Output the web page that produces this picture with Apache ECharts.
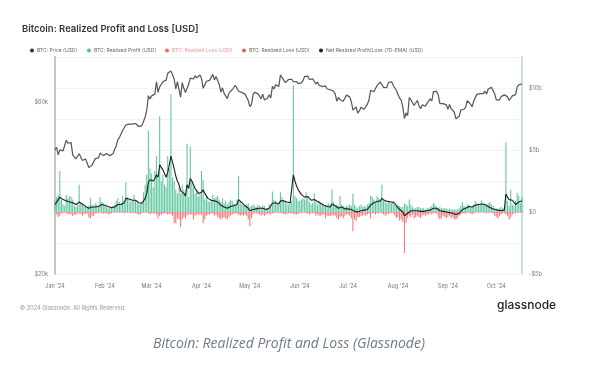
<!DOCTYPE html>
<html><head><meta charset="utf-8">
<script src="https://cdn.jsdelivr.net/npm/echarts@6/dist/echarts.min.js"></script>
<style>html,body{margin:0;padding:0;background:#fff}#c{width:603px;height:380px}</style>
</head><body><div id="c"></div>
<script>
// ---- data (daily, 2024-01-01 .. 2024-10-17) ----
const startDate = '2024-01-01';
const monthLabels = ["Jan '24","Feb '24","Mar '24","Apr '24","May '24","Jun '24","Jul '24","Aug '24","Sep '24","Oct '24"];
const leftTicks = [20000, 60000];

// BTC price (USD, thousands)
const price = [
44.2,44.9,42.8,44.2,44.1,43.9,43.9,47.0,46.1,46.6,46.3,42.8,42.8,41.7,42.5,43.1,42.7,41.3,41.6,41.7,41.6,39.5,39.8,40.1,39.9,41.8,42.1,42.0,43.3,42.9,42.6,
43.1,43.2,43.0,42.6,42.7,43.1,44.3,45.3,47.1,47.8,48.3,50.0,49.7,51.8,52.0,52.1,51.7,52.1,51.8,52.3,51.8,51.3,50.7,51.6,51.7,54.5,57.1,62.5,61.2,
62.4,62.0,63.1,68.3,63.8,66.1,66.9,68.3,68.5,69.0,72.1,71.5,73.1,71.4,69.5,65.3,68.4,67.6,61.9,67.9,65.5,63.8,64.0,67.2,69.9,69.9,69.5,71.0,70.0,69.6,71.3,
69.7,65.5,65.9,68.5,67.8,68.9,69.4,71.6,69.1,70.6,70.0,67.1,63.9,65.7,63.4,63.8,61.3,63.5,63.8,64.9,64.9,66.8,66.4,64.3,64.5,63.8,63.4,63.1,63.8,60.6,
58.3,59.1,62.9,63.9,64.0,63.2,62.3,61.2,63.1,60.8,60.8,61.5,62.9,61.6,66.3,65.2,67.0,67.0,66.3,71.4,70.1,69.1,67.9,68.5,69.3,68.5,69.4,68.3,67.6,68.4,67.5,
67.7,67.8,68.8,70.6,71.1,70.8,69.3,69.3,69.6,69.5,67.3,68.2,66.8,66.0,66.2,66.6,66.5,65.2,65.0,64.9,64.1,64.3,63.2,60.3,61.8,60.9,61.6,60.3,60.9,62.7,
62.9,62.0,60.2,57.0,56.7,58.2,55.9,56.7,58.0,57.7,57.3,57.9,59.2,60.8,64.7,65.0,64.1,63.9,66.7,67.2,68.2,67.6,65.9,65.4,65.8,67.9,68.2,68.3,66.8,66.2,64.6,
65.4,61.5,60.7,58.1,54.0,56.0,55.0,61.7,60.9,60.9,58.7,59.4,60.6,58.7,57.5,58.9,59.5,58.4,59.5,59.0,61.2,60.4,64.1,64.2,64.2,62.8,59.4,59.0,59.4,59.1,58.9,
57.3,59.1,57.5,58.0,56.2,53.9,54.2,54.8,57.0,57.6,57.3,58.1,60.5,60.0,59.2,58.2,60.3,61.8,63.0,63.2,63.3,63.6,63.3,64.3,63.1,65.2,65.8,65.9,65.6,63.3,
60.8,60.6,60.8,62.1,62.1,62.8,62.2,62.1,60.6,60.3,62.4,63.2,62.9,66.0,67.0,67.6,67.4
];

// Realized profit ($b)
const profit = [
0.9,1.2,1.4,3.3,1.0,0.6,0.5,1.4,1.1,1.3,1.2,1.0,0.5,0.4,0.6,2.2,0.7,0.6,0.5,0.4,0.3,0.5,1.1,0.6,0.5,0.7,0.6,0.4,1.2,0.8,0.7,
0.5,0.4,0.3,0.3,0.4,0.5,0.6,0.9,1.1,0.8,0.7,1.3,0.9,2.4,1.2,1.0,0.8,0.9,1.4,0.9,0.7,0.6,0.7,0.8,1.6,2.2,3.0,6.6,3.5,
3.1,2.0,3.3,4.5,2.8,7.7,2.5,3.0,2.2,2.0,4.5,3.5,9.5,2.8,2.5,1.8,1.5,2.0,1.5,2.2,1.8,1.5,5.5,1.2,5.3,2.5,2.0,1.5,1.8,1.2,1.5,
3.3,2.6,1.0,1.2,0.9,0.8,1.0,1.4,1.1,1.2,1.3,1.0,0.8,1.1,0.7,0.9,0.6,0.8,1.0,0.9,0.7,0.6,1.0,2.9,0.8,0.6,0.5,0.5,0.6,0.7,
0.4,0.5,0.6,0.5,0.4,0.6,0.5,0.4,0.5,0.5,0.3,0.3,0.6,0.6,1.65,1.0,0.9,0.7,0.6,1.6,1.2,0.9,0.8,0.7,0.6,0.8,0.9,10.2,1.3,1.1,0.9,
0.9,1.0,1.1,1.0,1.6,1.2,0.8,0.6,0.7,1.5,0.8,0.6,0.9,0.7,0.6,0.5,0.5,0.6,0.7,0.6,1.8,0.8,0.5,0.6,0.5,1.3,0.6,0.5,0.4,0.5,
0.5,0.6,0.5,1.5,0.6,0.4,0.3,0.5,0.6,0.4,0.5,0.4,0.6,0.7,1.3,1.2,1.0,0.8,1.3,1.1,0.9,2.2,1.0,0.8,0.7,0.9,0.8,0.7,0.9,0.6,0.5,
0.6,0.5,0.4,0.4,0.7,0.6,0.5,1.0,0.6,0.4,0.3,0.3,0.4,0.4,0.3,0.3,0.3,0.2,0.3,0.3,0.4,0.5,0.7,0.6,0.4,0.3,0.4,0.3,0.3,0.3,0.3,
0.2,0.3,0.2,0.2,0.2,0.2,0.2,0.3,0.5,0.8,0.5,0.4,0.6,0.6,0.5,0.4,0.6,0.9,0.7,0.6,0.6,0.9,0.6,0.6,0.5,0.7,0.8,0.6,0.5,0.3,
0.3,0.2,0.3,0.4,0.3,0.3,5.6,0.9,0.5,1.8,0.6,0.5,0.9,1.55,1.3,0.7,1.2
];

// Realized loss ($b, negative)
const loss = [
-0.1,-0.2,-0.4,-0.3,-0.1,-0.1,-0.05,-0.1,-0.2,-0.15,-0.2,-0.35,-0.2,-0.25,-0.1,-0.15,-0.15,-0.3,-0.2,-0.1,-0.15,-0.45,-0.5,-0.3,-0.3,-0.1,-0.1,-0.1,-0.05,-0.1,-0.15,
-0.1,-0.1,-0.15,-0.2,-0.1,-0.05,-0.05,-0.05,-0.05,-0.05,-0.05,-0.05,-0.1,-0.05,-0.05,-0.05,-0.1,-0.05,-0.1,-0.1,-0.15,-0.2,-0.2,-0.1,-0.05,-0.05,-0.05,-0.1,-0.2,
-0.1,-0.15,-0.1,-0.2,-0.55,-0.3,-0.2,-0.15,-0.1,-0.1,-0.2,-0.15,-0.2,-0.3,-0.9,-0.9,-0.5,-0.6,-1.2,-0.6,-0.4,-0.5,-0.3,-0.2,-0.2,-0.2,-0.6,-0.3,-0.2,-0.2,-0.2,
-0.2,-0.9,-0.6,-0.3,-0.2,-0.2,-0.1,-0.15,-0.3,-0.2,-0.4,-0.5,-0.6,-0.5,-0.4,-0.5,-0.6,-0.4,-0.3,-0.2,-0.15,-0.1,-0.15,-0.2,-0.3,-0.25,-0.3,-0.2,-0.3,-0.6,
-1.15,-0.5,-0.2,-0.1,-0.1,-0.15,-0.2,-0.3,-0.2,-0.3,-0.2,-0.15,-0.15,-0.2,-0.1,-0.1,-0.05,-0.05,-0.1,-0.05,-0.1,-0.15,-0.2,-0.15,-0.1,-0.1,-0.1,-0.15,-0.2,-0.2,-0.15,
-0.1,-0.1,-0.05,-0.05,-0.1,-0.1,-0.2,-0.1,-0.1,-0.1,-0.3,-0.2,-0.3,-0.3,-0.2,-0.2,-0.5,-0.3,-0.35,-0.3,-0.3,-0.25,-0.3,-0.5,-0.6,-0.4,-0.35,-0.5,-0.3,-0.2,
-0.2,-0.3,-0.5,-1.55,-0.6,-0.7,-0.4,-0.4,-0.3,-0.3,-0.2,-0.3,-0.2,-0.15,-0.5,-0.1,-0.1,-0.2,-0.1,-0.1,-0.05,-0.1,-0.2,-0.3,-0.2,-0.15,-0.1,-0.05,-0.1,-0.3,-0.5,
-0.4,-0.7,-0.6,-0.8,-3.3,-0.9,-0.5,-0.3,-0.4,-0.2,-0.5,-0.4,-0.3,-0.4,-0.5,-0.3,-0.2,-0.3,-0.2,-0.2,-0.1,-0.2,-0.1,-0.1,-0.15,-0.4,-0.6,-0.5,-0.3,-0.4,-0.5,
-0.4,-0.3,-0.5,-0.4,-0.6,-0.6,-0.5,-0.3,-0.2,-0.1,-0.1,-0.15,-0.05,-0.05,-0.1,-0.2,-0.1,-0.05,-0.05,-0.05,-0.05,-0.05,-0.05,-0.05,-0.1,-0.05,-0.05,-0.05,-0.1,-0.3,
-0.4,-0.5,-0.35,-0.2,-0.1,-0.1,-0.2,-0.3,-0.6,-0.4,-0.2,-0.1,-0.1,-0.05,-0.05,-0.05,-0.1
];

// Net realized profit/loss, 7D-EMA ($b)
const netEma = [
0.6,0.8,0.9,1.2,1.1,1.0,0.9,0.9,0.85,0.8,0.8,0.75,0.7,0.6,0.55,0.8,0.75,0.65,0.55,0.45,0.4,0.3,0.4,0.4,0.35,0.4,0.45,0.45,0.6,0.6,0.6,
0.55,0.5,0.45,0.4,0.35,0.35,0.4,0.5,0.6,0.6,0.6,0.75,0.75,1.1,1.1,1.05,1.0,0.95,1.0,0.95,0.85,0.75,0.7,0.7,0.85,1.1,1.5,2.4,2.6,
2.7,2.5,2.7,3.0,2.8,3.8,3.6,3.4,3.1,2.8,3.2,3.8,4.5,4.0,3.5,2.9,2.5,2.2,1.7,1.6,1.5,1.3,2.2,1.9,2.7,2.5,2.2,1.9,1.7,1.5,1.4,
1.6,1.8,1.5,1.3,1.1,1.0,0.95,0.95,0.9,0.85,0.8,0.7,0.55,0.5,0.4,0.35,0.3,0.35,0.45,0.5,0.5,0.5,0.6,1.0,0.9,0.75,0.6,0.5,0.45,0.3,
0.1,0.1,0.2,0.25,0.25,0.3,0.3,0.25,0.3,0.25,0.2,0.2,0.3,0.35,0.7,0.75,0.75,0.7,0.65,0.9,0.95,0.9,0.85,0.8,0.75,0.75,0.8,3.0,2.5,2.1,1.8,
1.6,1.4,1.3,1.2,1.3,1.25,1.1,0.95,0.85,1.0,0.95,0.85,0.8,0.7,0.6,0.55,0.45,0.45,0.45,0.4,0.65,0.6,0.5,0.4,0.3,0.45,0.4,0.3,0.25,0.25,
0.25,0.25,0.2,0.1,0.05,0.0,0.0,0.05,0.1,0.1,0.15,0.15,0.2,0.3,0.55,0.7,0.75,0.75,0.85,0.9,0.9,1.1,1.0,0.9,0.85,0.85,0.85,0.8,0.8,0.7,0.5,
0.4,0.2,0.1,0.0,-0.3,-0.2,-0.1,0.05,0.1,0.15,0.1,0.1,0.1,0.1,0.05,0.05,0.05,0.05,0.1,0.1,0.15,0.2,0.3,0.35,0.3,0.2,0.1,0.05,0.05,0.05,0.0,
0.0,-0.05,-0.1,-0.1,-0.15,-0.2,-0.2,-0.1,0.0,0.2,0.25,0.3,0.4,0.45,0.45,0.4,0.45,0.55,0.6,0.6,0.6,0.65,0.6,0.6,0.55,0.45,0.4,0.3,0.25,0.2,
0.2,0.15,0.1,0.1,0.15,0.15,1.45,1.2,1.0,1.1,0.95,0.8,0.6,0.75,0.8,0.8,0.9
];

// ---- build ----
const dates = [];
{ const d0 = new Date(startDate + 'T00:00:00Z');
  for (let i = 0; i < price.length; i++) { const d = new Date(d0.getTime() + i*86400000); dates.push(d.toISOString().slice(0,10)); } }
const FONT = 'Inter, "Noto Sans", sans-serif';
const names = ['BTC: Price (USD)','BTC: Realized Profit (USD)','BTC: Realized Loss (USD) ','BTC: Realized Loss (USD)','Net Realized Profit/Loss (7D-EMA) (USD)'];
const legendLeft = [30, 87, 165, 242, 319];
const legendColors = ['#333','#4fbf94','#f07070','#f05a5a','#222'];
const legends = names.map((n,i)=>({
  left: legendLeft[i], top: 48, data:[{name:n, icon:'circle', itemStyle:{color:legendColors[i]}}],
  itemWidth:4, itemHeight:4, padding:0, selectedMode:false,
  textStyle:{fontSize:5, color: i===2 ? '#f09a9a' : '#666', fontFamily:FONT, padding:[0,0,0,-2]}
}));

const chart = echarts.init(document.getElementById('c'), null, {renderer:'canvas'});
chart.setOption({
  animation:false,
  backgroundColor:'#fff',
  title:{text:'Bitcoin: Realized Profit and Loss [USD]', left:17, top:19,
    textStyle:{fontSize:9.5, fontWeight:600, color:'#333', fontFamily:FONT}},
  legend: legends,
  grid:{left:55, right:81, top:57, bottom:106},
  xAxis:{type:'category', data:dates, boundaryGap:false,
    axisLine:{lineStyle:{color:'#e6e6e6'}}, axisTick:{show:false},
    axisLabel:{interval:(i,v)=>v.slice(8)==='01', formatter:v=>monthLabels[parseInt(v.slice(5,7))-1],
      fontSize:5.5, color:'#777', margin:9, fontFamily:FONT},
    splitLine:{show:false}},
  yAxis:[
    {type:'log', min:20000, max:80000, position:'left',
      axisLine:{show:true, lineStyle:{color:'#c6c6c6', width:2}}, axisTick:{show:false},
      axisLabel:{customValues:leftTicks, showMinLabel:true, formatter:v=>'$'+Math.round(v/1000)+'k', fontSize:5.5, color:'#777', margin:7, fontFamily:FONT},
      splitLine:{show:false}},
    {type:'value', min:-5, max:12.5, interval:2.5, position:'right',
      axisLine:{show:true, lineStyle:{color:'#bfe6d6', width:2}}, axisTick:{show:false},
      axisLabel:{formatter:v=> (v%5!==0)?'':(v===0?'$0':(v<0?'-$'+(-v)+'b':'$'+v+'b')), fontSize:5.5, color:'#777', margin:7, fontFamily:FONT},
      splitLine:{lineStyle:{color:'#f3f3f3', width:1}}}
  ],
  series:[
    {name:names[1], type:'bar', yAxisIndex:1, data:profit, barWidth:1.1, barGap:'-100%', itemStyle:{color:'#62c8a0'}, z:2},
    {name:names[3], type:'bar', yAxisIndex:1, data:loss, barWidth:1.1, barGap:'-100%', itemStyle:{color:'#f07b7b'}, z:2},
    {name:names[2], type:'line', yAxisIndex:1, data:[], symbol:'none'},
    {name:names[4], type:'line', yAxisIndex:1, data:netEma, symbol:'none', lineStyle:{color:'#1e1e1e', width:1.1}, z:4},
    {name:names[0], type:'line', yAxisIndex:0, data:price.map(p=>p*1000), symbol:'none', lineStyle:{color:'#555', width:1.2}, z:5}
  ],
  graphic:[
    {type:'text', left:20, top:305, style:{text:'© 2024 Glassnode. All Rights Reserved.', fontSize:5.6, fill:'#999', fontFamily:FONT}},
    {type:'text', left:497, top:299, style:{text:'glassnode', fontSize:12, fontWeight:500, fill:'#222', fontFamily:FONT}},
    {type:'text', left:153, top:337, style:{text:'Bitcoin: Realized Profit and Loss (Glassnode)', fontSize:14, fontStyle:'italic', fill:'#6d7b8e', fontFamily:'"Open Sans", sans-serif'}}
  ]
});
</script></body></html>
